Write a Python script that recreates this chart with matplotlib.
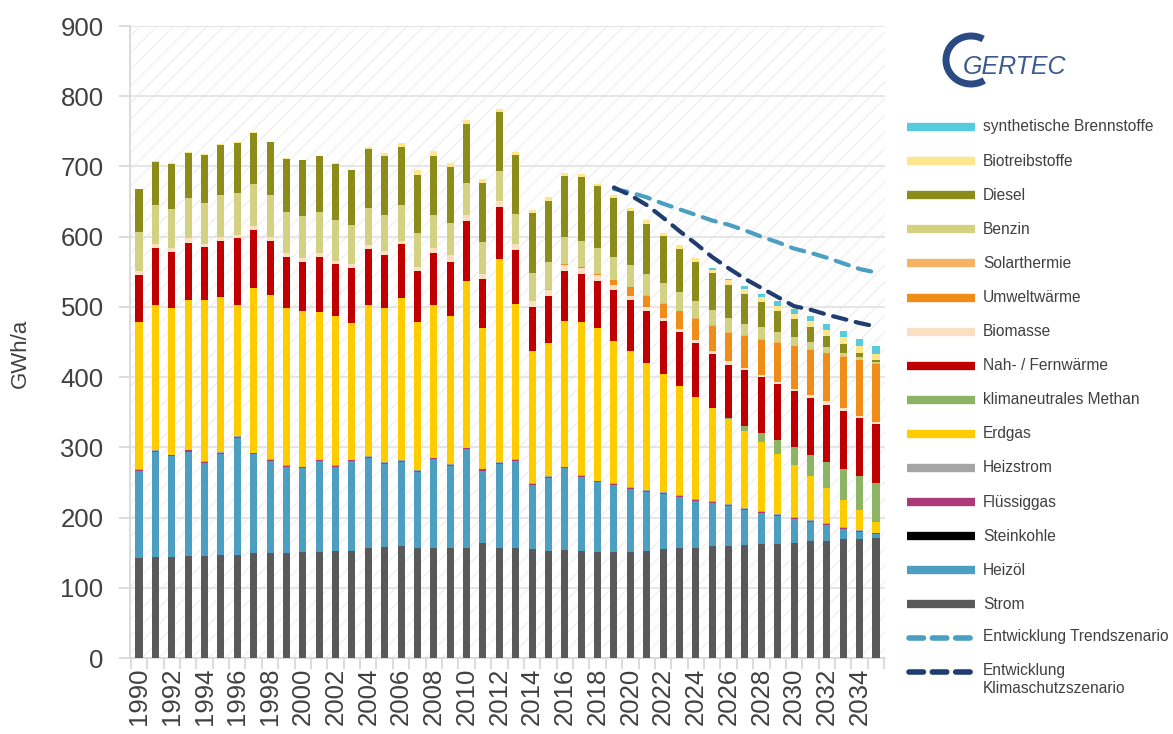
import matplotlib
matplotlib.use("Agg")
from matplotlib import pyplot as plt
from matplotlib.patches import Rectangle, Arc
from matplotlib.lines import Line2D
import numpy as np

plt.rcParams['font.family'] = ['Liberation Sans', 'DejaVu Sans']
plt.rcParams['hatch.linewidth'] = 1.0

years = list(range(1990, 2036))

# GWh/a per Energieträger (1990-2035)
strom = [142, 144, 144, 145, 145, 147, 147, 149, 149, 150, 151, 151, 152, 153,
         157, 158, 159, 157, 157, 157, 157, 164, 156, 156, 155, 153, 154, 153, 151,
         151, 151, 153, 155, 156, 157, 159, 160, 161, 162, 163, 164, 166, 167, 169, 170, 171]
heizoel = [124, 149, 143, 149, 133, 144, 166, 141, 132, 122, 119, 129, 120, 127,
           128, 118, 120, 108, 126, 117, 140, 103, 120, 125, 91, 103, 116, 105, 99,
           95, 90, 84, 78, 73, 67, 62, 56, 50, 45, 39, 34, 28, 22, 15, 10, 5]
steinkohle = [0, 0, 0, 0, 0, 0, 0, 0, 0, 0, 0, 0, 0, 0,
              0, 0, 0, 0, 0, 0, 0, 0, 0, 0, 0, 0, 0, 0, 0,
              0, 0, 0, 0, 0, 0, 0, 0, 0, 0, 0, 0, 0, 0, 0, 0, 0]
fluessiggas = [1.5, 1.5, 1.5, 1.5, 1.5, 1.5, 1.5, 1.5, 1.5, 1.5, 1.5, 1.5, 1.5, 1.5,
               1.5, 1.5, 1.5, 1.5, 1.5, 1.5, 1.5, 1.5, 1.5, 1.5, 1.5, 1.5, 1.5, 1.5, 1.5,
               1.5, 1.5, 1.5, 1.5, 1.5, 1.5, 1.5, 1.5, 1.5, 1.5, 1.5, 1.5, 1.5, 1.5, 1.5, 1.5, 1.5]
heizstrom = [1, 1, 1, 1, 1, 1, 1, 1, 1, 1, 1, 1, 1, 1,
             1, 1, 1, 1, 1, 1, 1, 1, 1, 1, 1, 1, 1, 1, 1,
             1.2, 1.2, 1.2, 1.2, 1.2, 1.2, 1.2, 1.2, 1.2, 1.2, 1.2, 1.2, 1.2, 1.2, 1.2, 1.2, 1.2]
erdgas = [210, 207, 209, 213, 229, 220, 187, 235, 234, 224, 221, 210, 212, 195,
          215, 220, 231, 211, 217, 210, 237, 200, 290, 221, 189, 190, 207, 218, 217,
          203, 193, 180, 169, 156, 145, 132, 121, 110, 98, 86, 74, 63, 50, 39, 28, 15]
methan = [0, 0, 0, 0, 0, 0, 0, 0, 0, 0, 0, 0, 0, 0,
          0, 0, 0, 0, 0, 0, 0, 0, 0, 0, 0, 0, 0, 0, 0,
          0, 0, 0, 0, 0, 0, 0, 2, 7, 13, 20, 26, 30, 38, 44, 49, 56]
nahfern = [67, 81, 79, 82, 76, 81, 95, 82, 77, 72, 71, 78, 75, 78,
           80, 75, 77, 72, 74, 78, 86, 70, 74, 76, 62, 67, 72, 69, 67,
           72, 73, 75, 75, 76, 77, 77, 76, 79, 79, 79, 80, 81, 81, 82, 82, 83]
biomasse = [5, 6, 6, 6, 4, 5, 5, 6, 5, 6, 5, 6, 4, 5,
            5, 6, 5, 6, 8, 9, 9, 8, 8, 9, 9, 8, 8, 8, 9,
            7, 6, 5, 4, 5, 4, 5, 5, 3, 3, 4, 3, 4, 5, 4, 3, 4]
umwelt = [0, 0, 0, 0, 0, 0, 0, 0, 0, 0, 0, 0, 0, 0,
          0, 0, 0, 0, 0, 0, 0, 0, 0, 0, 0, 1, 1, 1.5, 1.5,
          7, 12, 16, 21, 25, 30, 35, 40, 46, 50, 55, 60, 64, 68, 73, 79, 82]
solar = [0, 0, 0, 0, 0, 0, 0, 0, 0, 0, 0, 0, 0, 0,
         0, 0, 0, 0, 0, 0, 0, 0, 0, 0, 0, 0.5, 0.5, 0.5, 0.5,
         1, 1, 1, 1, 1, 1, 1, 1, 1, 1, 1, 1, 1, 1, 1, 1, 1]
benzin = [56, 56, 56, 58, 59, 60, 60, 60, 60, 59, 60, 59, 58, 56,
          54, 52, 51, 49, 47, 46, 45, 45, 43, 43, 40, 39, 38, 37, 36,
          33, 31, 30, 28, 26, 24, 22, 20, 16, 17, 14, 12, 10, 8, 4, 4, 2]
diesel = [61, 61, 64, 64, 68, 71, 71, 72, 75, 75, 79, 79, 80, 78,
          84, 83, 82, 83, 84, 80, 84, 84, 84, 84, 85, 87, 87, 91, 88,
          83, 77, 72, 67, 62, 56, 52, 48, 43, 36, 31, 26, 21, 16, 14, 6, 2]
biotreib = [1, 1, 1, 1, 1, 1, 1, 1, 1, 1, 1, 1, 1, 1,
            2, 4, 6, 7, 7, 6, 6, 5, 5, 4, 5, 5, 4, 4, 4,
            5, 4, 5, 5, 6, 6, 5, 6, 7, 7, 7, 7, 9, 9, 9, 10, 9]
synth = [0, 0, 0, 0, 0, 0, 0, 0, 0, 0, 0, 0, 0, 0,
         0, 0, 0, 0, 0, 0, 0, 0, 0, 0, 0, 0, 0, 0, 0,
         0, 0, 0, 0, 0, 0, 2, 2, 4, 4, 6, 7, 7, 8, 9, 10, 11]

trend_years = list(range(2019, 2036))
trend = [668, 663, 656, 647, 639, 631, 623, 617, 609, 600, 592, 583, 577, 570, 562, 554, 549]
klima = [670, 659, 645, 627, 608, 590, 571, 555, 540, 527, 514, 501, 496, 489, 483, 477, 472]

series = [
    ('Strom', strom, '#595959'),
    ('Heizöl', heizoel, '#4c9fc0'),
    ('Steinkohle', steinkohle, '#000000'),
    ('Flüssiggas', fluessiggas, '#ad3a78'),
    ('Heizstrom', heizstrom, '#a5a5a5'),
    ('Erdgas', erdgas, '#ffcc00'),
    ('klimaneutrales Methan', methan, '#8cb464'),
    ('Nah- / Fernwärme', nahfern, '#c00000'),
    ('Biomasse', biomasse, '#fbdfc2'),
    ('Umweltwärme', umwelt, '#f08c18'),
    ('Solarthermie', solar, '#f4b264'),
    ('Benzin', benzin, '#d3d283'),
    ('Diesel', diesel, '#8c8c1a'),
    ('Biotreibstoffe', biotreib, '#fde68c'),
    ('synthetische Brennstoffe', synth, '#58cadd'),
]

fig = plt.figure(figsize=(11.73, 7.34), dpi=100)
ax = fig.add_axes([130 / 1173, 76 / 734, 755 / 1173, 632 / 734])

# hatched background
bg = Rectangle((0, 0), 1, 1, transform=ax.transAxes, facecolor='white',
               edgecolor='#f0f0f0', hatch='//', lw=0, zorder=0)
ax.add_patch(bg)
ax.set_facecolor('white')

bottom = np.zeros(len(years))
for name, vals, col in series:
    ax.bar(years, vals, width=0.43, bottom=bottom, color=col, lw=0, zorder=3)
    bottom += np.array(vals)

ax.plot(trend_years, trend, color='#4a9fc3', lw=3, dashes=(3.3, 2.3),
        dash_capstyle='round', zorder=5)
ax.plot(trend_years, klima, color='#1f3d6e', lw=3, dashes=(3.3, 2.3),
        dash_capstyle='round', zorder=6)

ax.set_xlim(1989.45, 2035.55)
ax.set_ylim(0, 900)
ax.set_yticks(range(0, 901, 100))
ax.yaxis.grid(True, color='#e4e4e4', lw=1.3, zorder=1)
ax.set_axisbelow(True)

ax.set_xticks(years[::2])
ax.set_xticklabels([str(y) for y in years[::2]], rotation=90)
ax.set_xticks(np.arange(1989.5, 2036, 1), minor=True)
ax.tick_params(axis='x', which='major', length=0, pad=7, labelsize=18.5, labelcolor='#404040')
ax.tick_params(axis='x', which='minor', length=8, color='#d9d9d9', width=1.3)
ax.tick_params(axis='y', length=8, color='#d9d9d9', width=1.3, pad=11,
               labelsize=18.5, labelcolor='#404040')

for s in ['top', 'right']:
    ax.spines[s].set_visible(False)
for s in ['left', 'bottom']:
    ax.spines[s].set_color('#d9d9d9')
    ax.spines[s].set_linewidth(1.3)

fig.text(20 / 1173, 1 - 353 / 734, 'GWh/a', rotation=90, fontsize=16,
         color='#404040', ha='center', va='center')

# legend, top entry first
W, H = 1173.0, 734.0
rows = list(reversed(series))
for i, (name, vals, col) in enumerate(rows):
    yp = 127 + i * 34.1
    fig.add_artist(Line2D([907 / W, 975 / W], [1 - yp / H, 1 - yp / H], color=col,
                          lw=6, solid_capstyle='butt'))
    fig.text(983 / W, 1 - yp / H, name, fontsize=11.2, color='#404040', va='center')

for yp, col, lab in [(638, '#4a9fc3', 'Entwicklung Trendszenario'),
                     (672, '#1f3d6e', 'Entwicklung\nKlimaschutzszenario')]:
    fig.add_artist(Line2D([909 / W, 974 / W], [1 - yp / H, 1 - yp / H], color=col,
                          lw=4, dashes=(2.6, 1.6), dash_capstyle='round'))
    fig.text(983 / W, 1 - (yp - 8.5) / H, lab, fontsize=11.2, color='#404040', va='top',
             linespacing=1.2)

# logo
fig.add_artist(Arc((971 / W, 1 - 60 / H), 50 / W, 48 / H, theta1=70, theta2=292,
                   color='#2b4a84', lw=5))
fig.text(963 / W, 1 - 74 / H, 'GERTEC', fontsize=18, style='italic',
         color='#3a5a90', va='baseline')

fig.savefig('out.png', dpi=100)
